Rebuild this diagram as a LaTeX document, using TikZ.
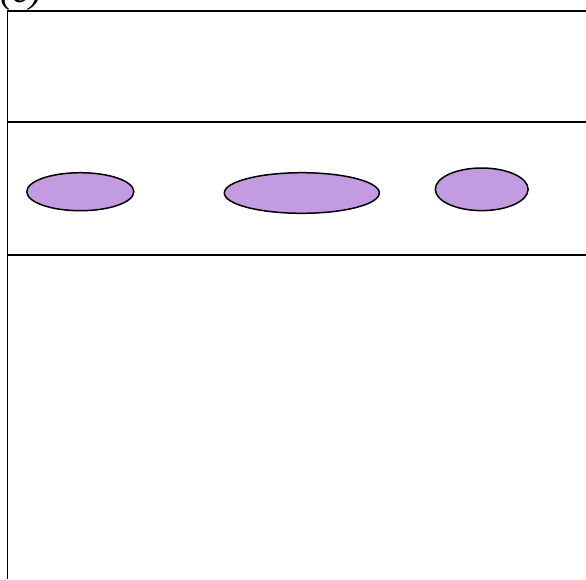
\documentclass[tikz,border=0pt]{standalone}
\usepackage{fontspec}
\setmainfont{Liberation Serif}
\usetikzlibrary{shapes.geometric}
\definecolor{lav}{RGB}{195,155,224}
\tikzset{
  blob/.style={ellipse, draw=black, line width=1.5pt, fill=lav, inner sep=0pt},
  rule/.style={line width=1.8pt, draw=black}
}
\begin{document}
\begin{tikzpicture}[x=1pt,y=-1pt]
\useasboundingbox (0,0) rectangle (586,579);
\node[anchor=base west, inner sep=0pt, font=\fontsize{38}{40}\selectfont\itshape] (lbl) at (0,2) {(c)};
\coordinate (tl) at (7.5,11);
\coordinate (tr) at (586,11);
\coordinate (bl) at (7.5,579);
\coordinate (m1l) at (7.5,122.3);
\coordinate (m1r) at (586,122.3);
\coordinate (m2l) at (7.5,255);
\coordinate (m2r) at (586,255);
\draw[rule] (tr) -- (tl) -- (bl);
\draw[rule] (m1l) -- (m1r);
\draw[rule] (m2l) -- (m2r);
\node[blob, minimum width=107pt, minimum height=38pt] (e1) at (80.3,191.7) {};
\node[blob, minimum width=155pt, minimum height=40.6pt] (e2) at (301.8,193) {};
\node[blob, minimum width=92.8pt, minimum height=42.6pt] (e3) at (481.7,189.3) {};
\end{tikzpicture}
\end{document}
